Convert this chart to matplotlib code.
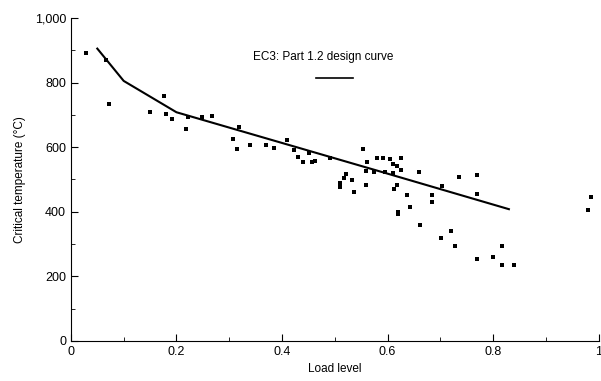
import matplotlib.pyplot as plt
from matplotlib.ticker import MultipleLocator, FixedLocator

# EC3 design curve
curve_x = [0.05, 0.10, 0.20, 0.40, 0.60, 0.83]
curve_y = [905, 805, 708, 613, 518, 408]

# test results: load level vs critical temperature
load = [0.028, 0.067, 0.072, 0.149, 0.176, 0.180, 0.191, 0.219, 0.221, 0.248,
        0.267, 0.308, 0.314, 0.319, 0.340, 0.369, 0.384, 0.410, 0.422, 0.431,
        0.440, 0.452, 0.457, 0.463, 0.491, 0.522, 0.518, 0.509, 0.509, 0.533,
        0.537, 0.554, 0.561, 0.559, 0.559, 0.575, 0.580, 0.592, 0.595, 0.605,
        0.611, 0.618, 0.626, 0.626, 0.611, 0.618, 0.612, 0.620, 0.620, 0.637,
        0.643, 0.660, 0.662, 0.684, 0.684, 0.701, 0.703, 0.720, 0.728, 0.735,
        0.769, 0.769, 0.769, 0.800, 0.817, 0.817, 0.839, 0.985, 0.979]
temp = [892, 870, 734, 709, 758, 703, 687, 656, 693, 693,
        697, 625, 594, 663, 607, 607, 597, 622, 591, 570,
        554, 582, 554, 557, 567, 517, 505, 489, 477, 498,
        461, 594, 554, 526, 483, 523, 567, 567, 523, 563,
        548, 542, 529, 567, 520, 483, 471, 399, 393, 452,
        415, 523, 359, 452, 430, 319, 480, 341, 294, 508,
        514, 455, 254, 260, 294, 235, 235, 446, 406]

xticks = [0, 0.2, 0.4, 0.6, 0.8, 1.0]
xtick_labels = ['0', '0.2', '0.4', '0.6', '0.8', '1']
yticks = [0, 200, 400, 600, 800, 1000]
ytick_labels = ['0', '200', '400', '600', '800', '1,000']

plt.rcParams['font.family'] = ['Liberation Sans', 'DejaVu Sans']
fig = plt.figure(figsize=(6.01, 3.81), dpi=100)
ax = fig.add_axes([0.118, 0.105, 0.878, 0.848])

ax.scatter(load, temp, marker='s', s=9, color='black', linewidths=0)
ax.plot(curve_x, curve_y, color='black', linewidth=1.5)

ax.text(0.478, 0.88, 'EC3: Part 1.2 design curve', transform=ax.transAxes,
        ha='center', va='center', fontsize=8.5)
ax.plot([0.465, 0.535], [0.815, 0.815], transform=ax.transAxes,
        color='black', linewidth=1.2)

ax.set_xlim(0, 1)
ax.set_ylim(0, 1000)
ax.spines['top'].set_visible(False)
ax.spines['right'].set_visible(False)
ax.xaxis.set_major_locator(FixedLocator(xticks))
ax.xaxis.set_minor_locator(MultipleLocator(0.1))
ax.yaxis.set_major_locator(FixedLocator(yticks))
ax.yaxis.set_minor_locator(MultipleLocator(100))
ax.set_xticklabels(xtick_labels)
ax.set_yticklabels(ytick_labels)
ax.tick_params(which='both', direction='in', labelsize=9)
ax.tick_params(which='major', length=5)
ax.tick_params(which='minor', length=3)

ax.set_xlabel('Load level', fontsize=8.5, labelpad=4)
ax.set_ylabel('Critical temperature (°C)', fontsize=8.5, labelpad=6)

fig.savefig('out.png', dpi=100)
